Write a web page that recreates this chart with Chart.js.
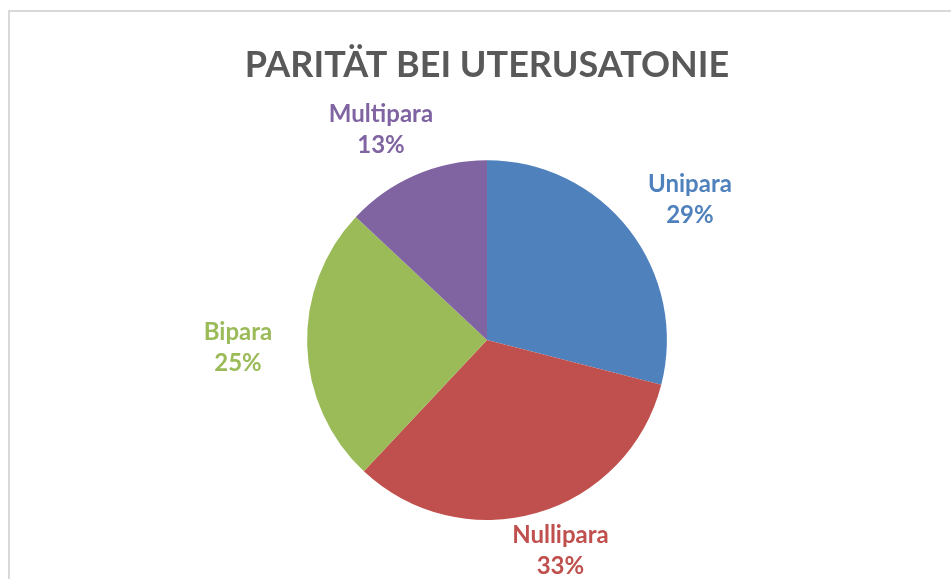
<!DOCTYPE html>
<html>
<head>
<meta charset="utf-8">
<script src="https://cdn.jsdelivr.net/npm/chart.js@4.4.1/dist/chart.umd.min.js"></script>
<style>
  html, body { margin: 0; padding: 0; background: #fff; overflow: hidden; }
  #wrap { position: relative; width: 951px; height: 579px; }
  #frame {
    position: absolute; left: 8px; top: 10px; width: 1000px; height: 1000px;
    border: 2px solid #d9d9d9; pointer-events: none;
  }
</style>
</head>
<body>
<div id="wrap">
  <canvas id="myChart" width="951" height="579"></canvas>
  <div id="frame"></div>
</div>
<script>
const labels = ["Unipara", "Nullipara", "Bipara", "Multipara"];
const percents = [29, 33, 25, 13];
const colors = ["#4F81BD", "#C0504D", "#9BBB59", "#8064A2"];
const chartTitle = "PARITÄT BEI UTERUSATONIE";

// draws "Name / NN%" outside each slice, pushed out along its middle angle
// and kept inside the canvas at the bottom
const outsideLabels = {
  id: 'outsideLabels',
  afterDatasetsDraw(chart) {
    const ctx = chart.ctx;
    const meta = chart.getDatasetMeta(0);
    ctx.save();
    ctx.font = 'bold 24px Lato';
    ctx.textAlign = 'center';
    ctx.textBaseline = 'middle';
    meta.data.forEach((arc, i) => {
      const p = arc.getProps(['x', 'y', 'startAngle', 'endAngle', 'outerRadius'], true);
      const mid = (p.startAngle + p.endAngle) / 2;
      const dx = Math.cos(mid), dy = Math.sin(mid);
      const w = ctx.measureText(labels[i]).width;
      const r = p.outerRadius + 35;
      const x = p.x + dx * r + dx * w / 2;
      let y = p.y + dy * r + dy * 15;
      y = Math.min(y, chart.height - 29);
      ctx.fillStyle = colors[i];
      ctx.fillText(labels[i], x, y - 15);
      ctx.fillText(percents[i] + '%', x, y + 16);
    });
    ctx.restore();
  }
};

const ctx = document.getElementById('myChart');
new Chart(ctx, {
  type: 'pie',
  data: {
    labels: labels,
    datasets: [{
      data: percents,
      backgroundColor: colors,
      borderWidth: 0
    }]
  },
  options: {
    responsive: false,
    animation: false,
    layout: {
      padding: { top: 0, bottom: 59, left: 23, right: 0 }
    },
    plugins: {
      legend: { display: false },
      tooltip: { enabled: false },
      title: {
        display: true,
        text: chartTitle,
        color: '#595959',
        font: { family: 'Lato', size: 36, weight: 'bold', lineHeight: 1.2 },
        padding: { top: 44, bottom: 73 }
      }
    }
  },
  plugins: [outsideLabels]
});
</script>
</body>
</html>
